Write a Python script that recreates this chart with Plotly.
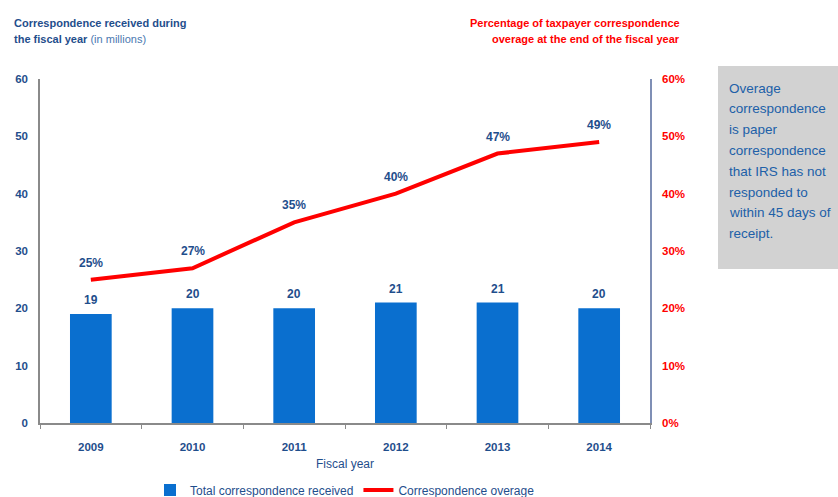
import plotly.graph_objects as go

years = ["2009", "2010", "2011", "2012", "2013", "2014"]
received = [19, 20, 20, 21, 21, 20]          # millions
overage_pct = [25, 27, 35, 40, 47, 49]        # percent

note_lines = ["Overage", "correspondence", "is paper", "correspondence",
              "that IRS has not", "responded to", "within 45 days of", "receipt."]

BAR_BLUE = "#0a6fcf"
TEXT_BLUE = "#1f4e8c"
RED = "#ff0000"
FONT = "Liberation Sans, Arial"

# plot-area geometry in pixels, used to place paper-referenced text
PLOT_TOP, PLOT_BOTTOM = 79, 423
PLOT_H = PLOT_BOTTOM - PLOT_TOP


def py(pix):
    """Convert a pixel row into a paper y coordinate."""
    return (PLOT_BOTTOM - pix) / PLOT_H


fig = go.Figure()
fig.add_trace(go.Bar(
    x=years, y=received, name="Total correspondence received",
    marker=dict(color=BAR_BLUE, line=dict(width=0)), yaxis="y",
))
fig.add_trace(go.Scatter(
    x=years, y=overage_pct, name="Correspondence overage",
    mode="lines", line=dict(color=RED, width=4), yaxis="y2",
))

for i, v in enumerate(received):
    fig.add_annotation(x=i, y=v, xref="x", yref="y", text=f"<b>{v}</b>", showarrow=False,
                       yshift=14, font=dict(family=FONT, size=12, color=TEXT_BLUE))
for i, p in enumerate(overage_pct):
    fig.add_annotation(x=i, y=p, xref="x", yref="y2", text=f"<b>{p}%</b>", showarrow=False,
                       yshift=17, font=dict(family=FONT, size=12, color=TEXT_BLUE))

# axis headings
fig.add_annotation(xref="paper", yref="paper", x=-0.046, y=py(23), xanchor="left", yanchor="middle",
                   showarrow=False, text="<b>Correspondence received during</b>",
                   font=dict(family=FONT, size=11, color=TEXT_BLUE))
fig.add_annotation(xref="paper", yref="paper", x=-0.046, y=py(39.5), xanchor="left", yanchor="middle",
                   showarrow=False,
                   text="<b>the fiscal year</b> <span style='color:#4a78b0'>(in millions)</span>",
                   font=dict(family=FONT, size=11, color=TEXT_BLUE))
fig.add_annotation(xref="paper", yref="paper", x=1.0525, y=py(23), xanchor="right", yanchor="middle",
                   showarrow=False, text="<b>Percentage of taxpayer correspondence</b>",
                   font=dict(family=FONT, size=11, color=RED))
fig.add_annotation(xref="paper", yref="paper", x=1.0525, y=py(39.5), xanchor="right", yanchor="middle",
                   showarrow=False, text="<b>overage at the end of the fiscal year</b>",
                   font=dict(family=FONT, size=11, color=RED))

# note box
fig.add_shape(type="rect", xref="paper", yref="paper", x0=1.1115, x1=1.31, y0=py(269), y1=py(66),
              fillcolor="#d2d2d2", line=dict(width=0), layer="below")
for k, line in enumerate(note_lines):
    fig.add_annotation(xref="paper", yref="paper", x=1.127, y=py(88 + 20.8 * k),
                       xanchor="left", yanchor="middle", showarrow=False, text=line,
                       font=dict(family=FONT, size=13.5, color="#2060a8"))

fig.update_layout(
    width=838, height=497,
    margin=dict(l=40, r=188, t=PLOT_TOP, b=497 - PLOT_BOTTOM, autoexpand=False),
    paper_bgcolor="white", plot_bgcolor="white",
    bargap=0.59,
    showlegend=True,
    legend=dict(orientation="h", x=0.5, xanchor="center", y=py(490), yanchor="middle",
                font=dict(family=FONT, size=12, color=TEXT_BLUE), itemwidth=30,
                traceorder="normal"),
    xaxis=dict(
        type="category", range=[-0.5, 5.5], showline=True, linecolor="#8a8a8a", linewidth=1.5,
        ticks="outside", tickson="boundaries", ticklen=4, tickcolor="#8a8a8a",
        ticklabelstandoff=12,
        tickfont=dict(family=FONT, size=11.5, color=TEXT_BLUE),
        tickprefix="<b>", ticksuffix="</b>",
        title=dict(text="Fiscal year", font=dict(family=FONT, size=12, color=TEXT_BLUE), standoff=8),
        showgrid=False, zeroline=False,
    ),
    yaxis=dict(
        range=[0, 60], dtick=10, showline=True, linecolor="#8a8a8a", linewidth=1.5,
        showgrid=False, zeroline=False, ticks="", ticklabelstandoff=8,
        tickfont=dict(family=FONT, size=11.5, color=TEXT_BLUE),
        tickprefix="<b>", ticksuffix="</b>",
    ),
    yaxis2=dict(
        range=[0, 60], dtick=10, overlaying="y", side="right", showline=True,
        linecolor="#7f8fb5", linewidth=1.5, showgrid=False, zeroline=False, ticks="",
        ticklabelstandoff=8,
        tickfont=dict(family=FONT, size=11.5, color=RED),
        tickprefix="<b>", ticksuffix="%</b>",
    ),
)

fig.write_html("out.html")
